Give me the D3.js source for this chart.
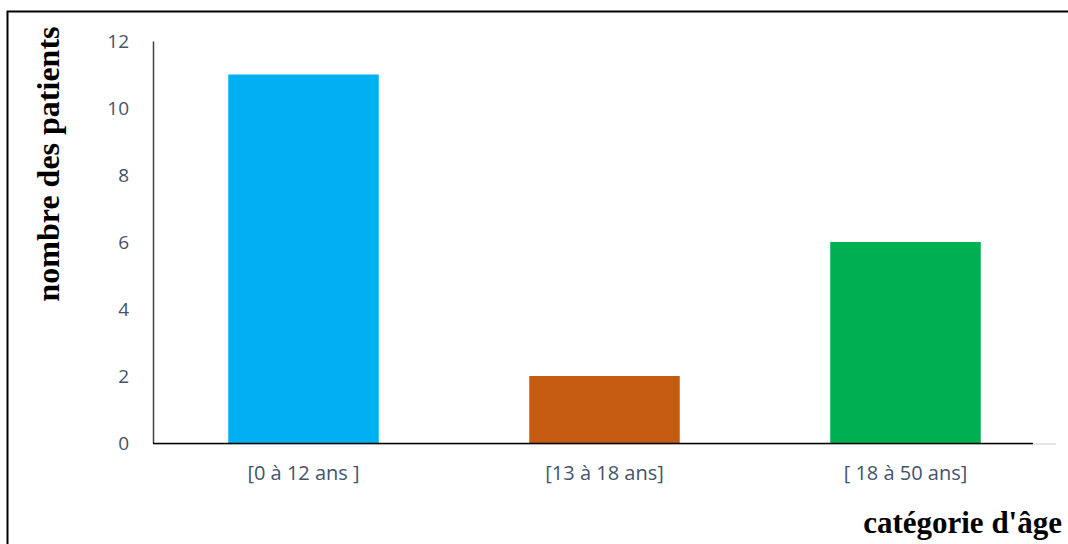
<!DOCTYPE html>
<html>
<head>
<meta charset="utf-8">
<script src="https://cdn.jsdelivr.net/npm/d3@7"></script>
<style>
  body { margin: 0; background: #fff; }
</style>
</head>
<body>
<svg id="chart" width="1068" height="544"></svg>
<script>
const categories = ["[0 à 12 ans ]", "[13 à 18 ans]", "[ 18 à 50 ans]"];
const values = [11, 2, 6];
const barColors = ["#00B0F0", "#C55A11", "#00B050"];
const yTicks = [0, 2, 4, 6, 8, 10, 12];

const svg = d3.select("#chart");

// outer frame (runs past the right/bottom edge)
svg.append("rect")
    .attr("x", 7.5)
    .attr("y", 11.5)
    .attr("width", 1100)
    .attr("height", 600)
    .attr("fill", "none")
    .attr("stroke", "#000")
    .attr("stroke-width", 2);

let x = d3.scaleBand()
    .domain(categories)
    .range([153, 1056])
    .paddingInner(0.5)
    .paddingOuter(0.25);

let y = d3.scaleLinear()
    .domain([0, 12])
    .range([443, 41]);

// faint extension of the baseline
svg.append("line")
    .attr("x1", 153).attr("x2", 1056)
    .attr("y1", 444).attr("y2", 444)
    .attr("stroke", "#d9dde3")
    .attr("stroke-width", 1.5);

svg.append("g")
    .selectAll("rect")
    .data(values)
    .join("rect")
    .attr("x", (d, i) => x(categories[i]))
    .attr("y", d => y(d))
    .attr("width", x.bandwidth())
    .attr("height", d => y(0) - y(d))
    .attr("fill", (d, i) => barColors[i]);

// y axis
let yAxis = svg.append("g")
    .attr("transform", "translate(153,0)")
    .call(d3.axisLeft(y).tickValues(yTicks).tickSize(0).tickPadding(24));
yAxis.select(".domain").attr("stroke", "#404040").attr("stroke-width", 1.5);
yAxis.selectAll("text")
    .attr("fill", "#44546A")
    .style("font-family", "'Open Sans', sans-serif")
    .style("font-size", "19px");

// x axis line
svg.append("line")
    .attr("x1", 153).attr("x2", 1033)
    .attr("y1", 443.5).attr("y2", 443.5)
    .attr("stroke", "#000")
    .attr("stroke-width", 1.5);

let xAxis = svg.append("g")
    .attr("transform", "translate(0,443)")
    .call(d3.axisBottom(x).tickSize(0).tickPadding(23));
xAxis.select(".domain").remove();
xAxis.selectAll("text")
    .attr("fill", "#44546A")
    .style("font-family", "'Open Sans', sans-serif")
    .style("font-size", "20px");

// axis titles
svg.append("text")
    .attr("transform", "translate(59,164) rotate(-90)")
    .attr("text-anchor", "middle")
    .style("font-family", "'Liberation Serif', 'Times New Roman', serif")
    .style("font-weight", "bold")
    .style("font-size", "32px")
    .text("nombre des patients");

svg.append("text")
    .attr("x", 1062)
    .attr("y", 533)
    .attr("text-anchor", "end")
    .style("font-family", "'Liberation Serif', 'Times New Roman', serif")
    .style("font-weight", "bold")
    .style("font-size", "31px")
    .text("catégorie d'âge");
</script>
</body>
</html>
